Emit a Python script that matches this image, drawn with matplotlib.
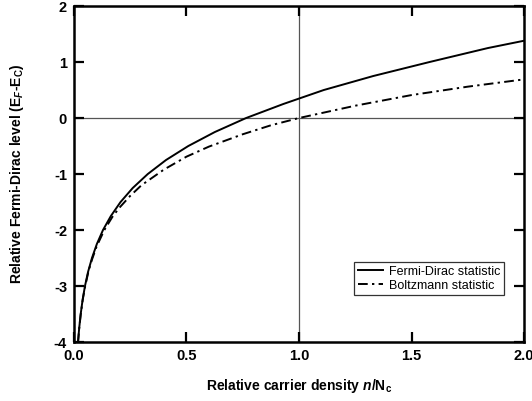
import numpy as np
import matplotlib
matplotlib.use('Agg')
import matplotlib.pyplot as plt

# Fermi-Dirac curve (n/Nc, EF-EC)
fd_density = [0.018, 0.0233, 0.030, 0.0383, 0.049, 0.0625, 0.080, 0.1017, 0.129,
              0.164, 0.207, 0.261, 0.328, 0.409, 0.508, 0.626, 0.765, 0.93,
              1.11, 1.33, 1.58, 1.84, 2.0]
fd_level = [-4.0, -3.75, -3.5, -3.25, -3.0, -2.75, -2.5, -2.25, -2.0,
            -1.75, -1.5, -1.25, -1.0, -0.75, -0.5, -0.25, 0.0, 0.25,
            0.5, 0.75, 1.0, 1.25, 1.38]

# Boltzmann curve
bz_density = [0.018, 0.023, 0.030, 0.040, 0.050, 0.065, 0.080, 0.100, 0.135,
              0.170, 0.200, 0.250, 0.300, 0.400, 0.500, 0.600, 0.750, 0.875,
              1.0, 1.25, 1.5, 1.75, 2.0]
bz_level = [-4.02, -3.77, -3.51, -3.22, -3.0, -2.73, -2.53, -2.30, -2.0,
            -1.77, -1.61, -1.39, -1.20, -0.92, -0.69, -0.51, -0.29, -0.13,
            0.0, 0.22, 0.41, 0.56, 0.69]

x_ticks = [0.0, 0.5, 1.0, 1.5, 2.0]
y_ticks = [-4, -3, -2, -1, 0, 1, 2]

plt.rcParams['font.family'] = ['Liberation Sans', 'DejaVu Sans']
plt.rcParams['axes.unicode_minus'] = False
plt.rcParams['mathtext.fontset'] = 'custom'
plt.rcParams['mathtext.rm'] = 'Liberation Sans:bold'
plt.rcParams['mathtext.bf'] = 'Liberation Sans:bold'
plt.rcParams['mathtext.it'] = 'Liberation Sans:bold:italic'

fig = plt.figure(figsize=(5.32, 4.01), dpi=100)
ax = fig.add_axes([0.139, 0.147, 0.846, 0.838])

# reference lines
ax.axvline(1.0, color='#555555', lw=0.9, zorder=1)
ax.axhline(0.0, color='#555555', lw=0.9, zorder=1)

ax.plot(fd_density, fd_level, color='black', lw=1.4, label='Fermi-Dirac statistic', zorder=3)
bz, = ax.plot(bz_density, bz_level, color='black', lw=1.4, label='Boltzmann statistic', zorder=3)
bz.set_dashes([5, 2.2, 1.2, 2.2])

ax.set_xlim(0, 2)
ax.set_ylim(-4, 2)
ax.set_xticks(x_ticks)
ax.set_xticklabels(['%.1f' % v for v in x_ticks])
ax.set_yticks(y_ticks)
ax.set_yticklabels([str(v) for v in y_ticks])

for s in ax.spines.values():
    s.set_linewidth(1.8)
ax.tick_params(direction='in', length=7, width=1.6, top=True, right=True,
               labelsize=10.5, pad=5)
for lab in ax.get_xticklabels() + ax.get_yticklabels():
    lab.set_fontweight('bold')

ax.set_xlabel(r'Relative carrier density $\mathit{n}$/N$_\mathrm{c}$',
              fontsize=10, fontweight='bold', labelpad=10)
ax.set_ylabel(r'Relative Fermi-Dirac level (E$_\mathit{F}$-E$_\mathrm{C}$)',
              fontsize=10, fontweight='bold', labelpad=20)

leg = ax.legend(loc='lower right', bbox_to_anchor=(0.97, 0.12), fontsize=9,
                frameon=True, fancybox=False, edgecolor='black',
                handlelength=2.0, borderpad=0.3, labelspacing=0.15, handletextpad=0.5)
leg.get_frame().set_linewidth(0.9)

fig.savefig('out.png', dpi=100)
